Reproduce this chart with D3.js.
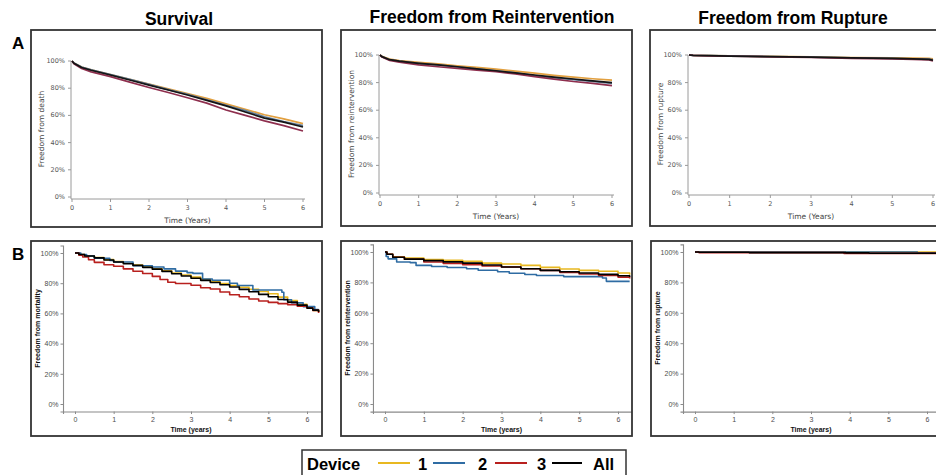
<!DOCTYPE html>
<html>
<head>
<meta charset="utf-8">
<script src="https://cdn.jsdelivr.net/npm/d3@7"></script>
<style>
body { margin: 0; background: #fff; }
svg { display: block; font-family: Arial, "Liberation Sans", sans-serif; }
</style>
</head>
<body>
<svg id="chart" width="936" height="475"></svg>
<script>
// ---------- data ----------
const devices = ['1', '2', '3', 'All'];
const columnTitles = ['Survival', 'Freedom from Reintervention', 'Freedom from Rupture'];
const rowLabels = ['A', 'B'];
const yTitlesA = ['Freedom from death', 'Freedom from reintervention', 'Freedom from rupture'];
const yTitlesB = ['Freedom from mortality', 'Freedom from reintervention', 'Freedom from rupture'];
const xTitleA = 'Time (Years)';
const xTitleB = 'Time (years)';
const xTicks = [0, 1, 2, 3, 4, 5, 6];
const yTicks = [0, 0.2, 0.4, 0.6, 0.8, 1];

// row A: smooth estimates, % at these times
const timeA = [0, 0.05, 0.25, 0.5, 1, 1.5, 2, 2.5, 3, 3.5, 4, 4.5, 5, 5.5, 6];
const deathA1   = [100, 98.5, 95.5, 93.5, 90, 86.5, 83, 79.5, 76, 72.5, 68.5, 64.5, 60.5, 57.5, 54];
const deathA2   = [100, 98.5, 95.5, 93.5, 90, 86.5, 82.8, 79, 75.5, 71.5, 67.5, 63.5, 59, 55.5, 52.5];
const deathA3   = [100, 98, 94.5, 92, 88.5, 84.5, 80.5, 76.8, 73, 69, 64, 60, 56, 52.5, 48.5];
const deathAAll = [100, 98.3, 95.2, 93.2, 89.7, 86, 82.3, 78.7, 75, 71, 67, 62.5, 58, 55, 51.5];

const reintA1   = [100, 99, 97, 96, 94.7, 93.5, 92.2, 91, 89.8, 88.3, 86.8, 85.3, 84, 82.8, 81.8];
const reintA2   = [100, 98.8, 96.5, 95.5, 94, 92.8, 91.5, 90, 88.6, 87, 85, 83.5, 82.2, 80.8, 79.5];
const reintA3   = [100, 98.5, 96, 94.8, 92.8, 91.5, 90.3, 89, 87.9, 86.3, 84.3, 82.5, 80.8, 79.5, 77.8];
const reintAAll = [100, 98.8, 96.6, 95.5, 94, 92.8, 91.5, 90, 88.6, 87, 85.5, 84, 82.6, 81.3, 80];

const timeRuptA = [0, 0.1, 0.5, 1, 2, 3, 4, 5, 5.5, 5.9, 6];
const ruptA1   = [100, 99.8, 99.6, 99.4, 99, 98.6, 98.2, 97.9, 97.7, 97.5, 97.3];
const ruptA2   = [100, 99.7, 99.5, 99.3, 98.9, 98.5, 98, 97.6, 97.3, 97, 96.5];
const ruptA3   = [100, 99.7, 99.4, 99.1, 98.7, 98.2, 97.6, 97.2, 96.8, 96.4, 95.8];
const ruptAAll = [100, 99.7, 99.5, 99.2, 98.8, 98.4, 97.9, 97.5, 97.2, 96.8, 96.2];

// row B: Kaplan-Meier steps, [time, %]
const mortB1 = [[0,100],[0.1,99],[0.25,98],[0.5,97],[0.75,95.6],[1,94.3],[1.25,93.2],[1.5,92],[1.75,90.8],[2,89.5],[2.25,88.2],[2.5,86.8],[2.75,85.4],[3,84],[3.25,82.6],[3.5,81.2],[3.75,79.8],[4,78.5],[4.25,77.3],[4.5,76],[4.75,74.5],[5,73],[5.25,70.8],[5.5,68.5],[5.75,66],[6,63.5],[6.15,62],[6.3,61]];
const mortB2 = [[0,100],[0.15,99],[0.3,98],[0.5,96.5],[0.9,95],[1,94],[1.5,91.6],[2,90.7],[2.3,89.5],[2.6,88],[2.9,87],[3.05,86.5],[3.3,82.8],[3.55,82],[4,80],[4.2,78.5],[4.6,75.5],[5.35,74],[5.4,69],[5.6,67],[5.9,64.5],[6.2,62.5],[6.3,62.5]];
const mortB3 = [[0,100],[0.1,98.5],[0.2,97.4],[0.35,95.5],[0.5,93.8],[0.75,92.2],[1,91.2],[1.25,89.5],[1.5,87.9],[1.75,86.4],[2,84.5],[2.2,82.5],[2.4,80.6],[2.6,79.8],[3,78.6],[3.25,77],[3.5,76.2],[3.75,74.2],[4,72.4],[4.25,71],[4.5,69.5],[4.75,68.2],[5,67.3],[5.25,66.5],[5.5,65.8],[5.75,64.8],[6,63.6],[6.15,62],[6.3,60.3]];
const mortBAll = [[0,100],[0.1,99],[0.25,98],[0.5,96.8],[0.75,95.4],[1,94],[1.25,92.9],[1.5,91.8],[1.75,90.5],[2,89.3],[2.25,87.8],[2.5,86.3],[2.75,84.8],[3,83.3],[3.25,81.9],[3.5,80.5],[3.75,79],[4,77.5],[4.25,75.9],[4.5,74.3],[4.75,72.6],[5,71],[5.25,69.2],[5.5,67.5],[5.75,65.5],[6,63.5],[6.15,62.2],[6.3,61]];

const reintB1 = [[0,100],[0.05,98.5],[0.2,96.8],[0.5,96],[1,95],[1.5,94.5],[2,93.8],[2.5,92.7],[3,92.1],[3.5,91.2],[4,89.9],[4.5,88.8],[5,87.9],[5.5,87.3],[6,86.2],[6.3,85]];
const reintB2 = [[0,100],[0.03,97],[0.08,95.5],[0.3,93.4],[0.65,93],[0.8,91.2],[1.2,90.5],[1.6,89.8],[2.1,89],[2.4,88],[2.9,87],[3.2,86],[3.6,85.2],[3.9,84.5],[4.6,83.8],[5.6,82.9],[5.7,80.7],[6.3,80.7]];
const reintB3 = [[0,100],[0.05,98.5],[0.2,96.5],[0.5,95.2],[1,93.4],[1.5,92.5],[2,91.6],[2.5,90.8],[3,90.1],[3.5,89],[4,87.9],[4.5,86.6],[5,85.5],[5.5,84.5],[6,83.5],[6.3,82.5]];
const reintBAll = [[0,100],[0.05,98.5],[0.2,96.5],[0.5,95.3],[1,94.3],[1.5,93.5],[2,92.7],[2.5,91.4],[3,90.1],[3.5,89],[4,87.9],[4.5,87],[5,86.2],[5.5,85.3],[6,84.4],[6.3,83.5]];

const ruptB1 = [[0,100],[6.3,100]];
const ruptB2 = [[0,100],[5.75,99.4],[6.3,99.4]];
const ruptB3 = [[0,100],[0.1,99.6],[3.85,99.1],[6.3,99.1]];
const ruptBAll = [[0,100],[0.1,99.8],[1.4,99.6],[3.9,99.4],[4.5,99.2],[6.3,99.2]];

// ---------- styles ----------
const colorsA = ['#e2a040', '#5f7c99', '#8e2f4e', '#151515'];
const colorsB = ['#e8b820', '#2f6ca3', '#b8201e', '#000000'];

const svg = d3.select('#chart');

function zipA(times, vals) {
    return times.map((t, i) => ({ t: t, s: vals[i] / 100 }));
}
function zipB(pairs) {
    return pairs.map(p => ({ t: p[0], s: p[1] / 100 }));
}

// layout per panel
const panels = [
    { row: 0, col: 0, box: [31, 30, 322, 227], x0: 72, x6: 303, y0: 197, y100: 61,
      series: [zipA(timeA, deathA1), zipA(timeA, deathA2), zipA(timeA, deathA3), zipA(timeA, deathAAll)] },
    { row: 0, col: 1, box: [341, 30, 632, 226], x0: 380, x6: 612, y0: 193, y100: 55,
      series: [zipA(timeA, reintA1), zipA(timeA, reintA2), zipA(timeA, reintA3), zipA(timeA, reintAAll)] },
    { row: 0, col: 2, box: [650, 30, 942, 226], x0: 689, x6: 933, y0: 193, y100: 55,
      series: [zipA(timeRuptA, ruptA1), zipA(timeRuptA, ruptA2), zipA(timeRuptA, ruptA3), zipA(timeRuptA, ruptAAll)] },
    { row: 1, col: 0, box: [31, 241, 322, 436], x0: 75, x6: 307, y0: 404, y100: 253,
      series: [zipB(mortB1), zipB(mortB2), zipB(mortB3), zipB(mortBAll)] },
    { row: 1, col: 1, box: [341, 241, 632, 436], x0: 385, x6: 618, y0: 404, y100: 252,
      series: [zipB(reintB1), zipB(reintB2), zipB(reintB3), zipB(reintBAll)] },
    { row: 1, col: 2, box: [651, 241, 942, 436], x0: 695, x6: 927, y0: 404, y100: 252,
      series: [zipB(ruptB1), zipB(ruptB2), zipB(ruptB3), zipB(ruptBAll)] }
];

function drawPanel(p, idx) {
    const g = svg.append('g');
    const [bx1, by1, bx2, by2] = p.box;
    const x = d3.scaleLinear().domain([0, 6]).range([p.x0, p.x6]);
    const y = d3.scaleLinear().domain([0, 1]).range([p.y0, p.y100]);

    const clipId = 'clip' + idx;
    svg.append('clipPath').attr('id', clipId)
        .append('rect').attr('x', bx1).attr('y', by1).attr('width', bx2 - bx1).attr('height', by2 - by1);
    const inner = g.append('g').attr('clip-path', `url(#${clipId})`);

    const isA = p.row === 0;
    const tickFont = isA ? '"DejaVu Sans", Verdana, sans-serif' : 'Arial, "Liberation Sans", sans-serif';

    let xAxisScale, yAxisScale, xAxisY, yAxisX;
    if (isA) {
        xAxisScale = x.copy();
        yAxisScale = y.copy();
        xAxisY = p.y0 + 2;
        yAxisX = p.x0 - 1;
    } else {
        const xmin = -0.31, xmax = 6.8;
        xAxisScale = d3.scaleLinear().domain([xmin, xmax]).range([x(xmin), x(xmax)]);
        yAxisScale = d3.scaleLinear().domain([-0.05, 1.05]).range([y(-0.05), y(1.05)]);
        xAxisY = y(-0.05);
        yAxisX = x(xmin);
    }

    // axes
    const xAxis = inner.append('g')
        .attr('transform', `translate(0,${xAxisY})`)
        .call(d3.axisBottom(xAxisScale).tickValues(xTicks).tickSizeOuter(0)
            .tickSize(isA ? 3 : 2.5).tickPadding(isA ? 3 : 2.5).tickFormat(d3.format('d')));
    const yAxis = inner.append('g')
        .attr('transform', `translate(${yAxisX},0)`)
        .call(d3.axisLeft(yAxisScale).tickValues(yTicks).tickSizeOuter(0)
            .tickSize(isA ? 3 : 2.5).tickPadding(isA ? 3 : 2).tickFormat(d3.format('.0%')));
    if (isA) {
        // keep ticks at true values, offset lines slightly
        xAxis.select('.domain').attr('d', `M${p.x0 - 1},0H${p.x6 + 2}`);
        yAxis.select('.domain').attr('d', `M0,${p.y100}V${p.y0 + 2}`);
        yAxis.selectAll('.tick').attr('transform', d => `translate(0,${y(d)})`);
        xAxis.selectAll('.tick').attr('transform', d => `translate(${x(d)},0)`);
    }
    [xAxis, yAxis].forEach(a => {
        a.select('.domain').attr('stroke', isA ? '#9a9a9a' : '#8a8a8a').attr('stroke-width', isA ? 1 : 1.1);
        a.selectAll('.tick line').attr('stroke', isA ? '#9a9a9a' : '#8a8a8a');
        a.selectAll('.tick text')
            .attr('font-family', tickFont)
            .attr('font-size', isA ? 6.5 : 7)
            .attr('fill', isA ? '#555' : '#4d4d4d');
    });

    // curves
    const line = d3.line()
        .x(d => x(d.t))
        .y(d => y(d.s))
        .curve(isA ? d3.curveLinear : d3.curveStepAfter);
    const cols = isA ? colorsA : colorsB;
    p.series.forEach((s, i) => {
        inner.append('path')
            .datum(s)
            .attr('d', line)
            .attr('fill', 'none')
            .attr('stroke', cols[i])
            .attr('stroke-width', isA ? 1.7 : 1.6)
            .attr('stroke-linejoin', 'round');
    });

    // axis titles
    const titleColor = isA ? '#444' : '#111';
    g.append('text')
        .attr('x', (x(0) + x(6)) / 2)
        .attr('y', isA ? p.y0 + 26 : p.y0 + 28)
        .attr('text-anchor', 'middle')
        .attr('font-size', isA ? 7.5 : 7)
        .attr('font-weight', isA ? 'normal' : 'bold')
        .attr('font-family', tickFont)
        .attr('fill', titleColor)
        .text(isA ? xTitleA : xTitleB);
    const yTitle = isA ? yTitlesA[p.col] : yTitlesB[p.col];
    const ytx = isA ? bx1 + 10 : bx1 + 6.5;
    const yty = (p.y0 + p.y100) / 2;
    g.append('text')
        .attr('transform', `translate(${ytx},${yty}) rotate(-90)`)
        .attr('text-anchor', 'middle')
        .attr('dy', '0.35em')
        .attr('font-size', isA ? 7.5 : 7)
        .attr('font-weight', isA ? 'normal' : 'bold')
        .attr('font-family', tickFont)
        .attr('fill', titleColor)
        .text(yTitle);

    // frame
    g.append('rect')
        .attr('x', bx1).attr('y', by1)
        .attr('width', bx2 - bx1).attr('height', by2 - by1)
        .attr('fill', 'none')
        .attr('stroke', '#333')
        .attr('stroke-width', 1.8);
}

panels.forEach(drawPanel);

// column titles
const titleX = [179, 492, 793];
const titleY = [25, 23, 24];
columnTitles.forEach((t, i) => {
    svg.append('text')
        .attr('x', titleX[i]).attr('y', titleY[i])
        .attr('text-anchor', 'middle')
        .attr('font-size', 17.5)
        .attr('font-weight', 'bold')
        .attr('fill', '#000')
        .text(t);
});

// row labels
const rowY = [49, 260];
rowLabels.forEach((t, i) => {
    svg.append('text')
        .attr('x', 12).attr('y', rowY[i])
        .attr('font-size', 17)
        .attr('font-weight', 'bold')
        .attr('fill', '#000')
        .text(t);
});

// legend
const leg = svg.append('g');
leg.append('rect')
    .attr('x', 302).attr('y', 450).attr('width', 324).attr('height', 40)
    .attr('fill', '#fff').attr('stroke', '#333').attr('stroke-width', 1.5);
leg.append('text')
    .attr('x', 307).attr('y', 470)
    .attr('font-size', 16.5).attr('font-weight', 'bold')
    .text('Device');
const legLineX = [378, 433, 495, 552];
const legLineW = [32, 32, 32, 30];
const legTextX = [418, 478, 537, 593];
devices.forEach((d, i) => {
    leg.append('line')
        .attr('x1', legLineX[i]).attr('x2', legLineX[i] + legLineW[i])
        .attr('y1', 463).attr('y2', 463)
        .attr('stroke', colorsB[i]).attr('stroke-width', 2);
    leg.append('text')
        .attr('x', legTextX[i]).attr('y', 470)
        .attr('font-size', 16.5).attr('font-weight', 'bold')
        .text(d);
});
</script>
</body>
</html>
